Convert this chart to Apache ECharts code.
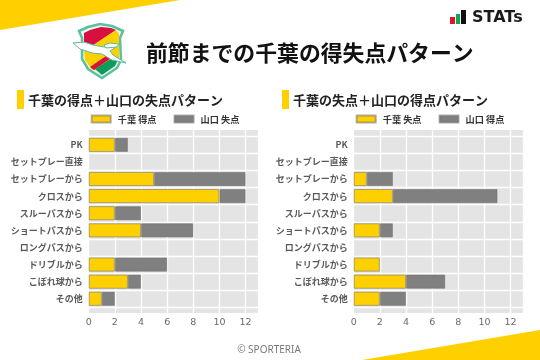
<!DOCTYPE html>
<html><head><meta charset="utf-8">
<style>html,body{margin:0;padding:0;background:#fff}#c{width:540px;height:360px}</style>
<script src="https://cdn.jsdelivr.net/npm/echarts@6/dist/echarts.min.js"></script>
</head><body><div id="c"></div>
<script>
const categories = ['PK','セットプレー直接','セットプレーから','クロスから','スルーパスから','ショートパスから','ロングパスから','ドリブルから','こぼれ球から','その他'];
const xTicks = [0,2,4,6,8,10,12];
const leftChibaFor   = [2,0,5,10,2,4,0,2,3,1];
const leftYamaguchiAgainst = [1,0,7,2,2,4,0,4,1,1];
const rightChibaAgainst = [0,0,1,3,0,2,0,2,4,2];
const rightYamaguchiFor = [0,0,2,8,0,1,0,0,3,2];
const mainTitle = '前節までの千葉の得失点パターン';
const leftTitle = '千葉の得点＋山口の失点パターン';
const rightTitle = '千葉の失点＋山口の得点パターン';

const FONT = '"Noto Sans CJK JP","Noto Sans",sans-serif';
const YELLOW = '#FFD000', GREY = '#808080', EDGE = 'rgba(110,110,110,0.55)';
const PANEL_W = 170, xMax = 13;
const panels = [
  {left:88.7, names:['千葉 得点','山口 失点'], a:leftChibaFor, b:leftYamaguchiAgainst},
  {left:353.7, names:['千葉 失点','山口 得点'], a:rightChibaAgainst, b:rightYamaguchiFor}
];
const grid=[], xAxis=[], yAxis=[], series=[], legend=[];
panels.forEach((p,i)=>{
  const bg=i*2, data=i*2+1;
  grid.push({left:p.left,top:130,width:PANEL_W,height:183,show:true,backgroundColor:'#E4E4E4',borderWidth:0,z:0});
  grid.push({left:p.left,top:136.3,width:PANEL_W,height:171,show:false,z:1});
  xAxis.push({gridIndex:bg,type:'value',min:0,max:xMax,interval:2,
    axisLine:{show:false},axisTick:{show:false},
    axisLabel:{color:'#6a6a6a',fontSize:9.5,margin:5,fontFamily:'"DejaVu Sans",sans-serif',showMaxLabel:false,
      formatter:v=>xTicks.includes(v)?String(v):''},
    splitLine:{show:true,lineStyle:{color:'#fff',width:1.3}}});
  yAxis.push({gridIndex:bg,type:'value',min:0,max:1,show:false,splitLine:{show:false}});
  xAxis.push({gridIndex:data,type:'value',min:0,max:xMax,show:false,splitLine:{show:false}});
  yAxis.push({gridIndex:data,type:'category',inverse:true,data:categories,
    axisLine:{show:false},axisTick:{show:false,alignWithLabel:true},
    axisLabel:{color:'#5a5a5a',fontSize:9,fontWeight:'bold',margin:6,fontFamily:FONT},
    splitLine:{show:true,lineStyle:{color:'#fff',width:1.3}}});
  [[p.a,YELLOW,p.names[0]],[p.b,GREY,p.names[1]]].forEach(([vals,col,name])=>{
    series.push({type:'bar',name,xAxisIndex:data,yAxisIndex:data,stack:'s'+i,barWidth:14.2,
      data:vals.map(v=>v===0?null:v),
      itemStyle:{color:col,borderColor:EDGE,borderWidth:1},silent:true,animation:false});
  });
  legend.push({left:p.left+2,top:114.5,data:p.names,itemWidth:19,itemHeight:7,itemGap:17,icon:'rect',
    padding:0,selectedMode:false,
    textStyle:{fontSize:9.2,fontWeight:'bold',color:'#333',fontFamily:FONT,padding:[0,0,0,2]}});
});
const poly=(points,fill,stroke,lw,z)=>({type:'polygon',z:z||10,shape:{points},style:{fill,stroke:stroke||null,lineWidth:lw||0}});
const txt=(x,y,text,font,fill,align)=>({type:'text',x,y,z:20,style:{text,font,fill,align:align||'left',verticalAlign:'middle'}});
const graphic=[
  poly([[0,0],[180,0],[0,30]],YELLOW),
  poly([[540,330],[540,360],[362,360]],YELLOW),
  // club crest
  poly([[79,31],[88,27],[100,24],[112,26],[123,31],[120,38],[121,60],[117,68],[102,78],[88,69],[82,59],[82,38]],'#EAF6F0','#5cbf9f',2.5),
  poly([[84,33],[90,30],[101,27],[111,28],[116,30],[92,46],[84,50]],'#D8103F'),
  poly([[92,46],[116,30],[119,34],[119,58],[100,70],[92,70],[85,60],[84,50]],YELLOW),
  poly([[90,67],[106,56],[110,59],[94,70]],'#D8103F'),
  poly([[95,69],[114,57],[119,58],[115,66],[102,75]],'#0E9A5C'),
  poly([[73,43],[84,42],[93,45],[104,47],[116,47],[110,51],[113,55],[126,63],[112,60],[102,54],[92,53],[80,49]],'#fff','#5fb99a',1),
  poly([[104,45],[110,43],[119,44],[117,47],[106,48]],'#fff','#5fb99a',1),
  // STATs mark
  {type:'rect',z:20,shape:{x:450,y:17,width:5,height:7},style:{fill:'#E0142C'}},
  {type:'rect',z:20,shape:{x:456,y:14,width:4,height:10},style:{fill:'#11A650'}},
  {type:'rect',z:20,shape:{x:461,y:10,width:5,height:14},style:{fill:'#111'}},
  txt(472,18,'STATs','bold 16px "DejaVu Sans",sans-serif','#1a1a1a'),
  txt(146,53,mainTitle,'bold 21.85px '+FONT,'#111'),
  {type:'rect',z:20,shape:{x:17,y:90,width:7,height:19},style:{fill:YELLOW}},
  txt(28,100,leftTitle,'bold 13px '+FONT,'#222'),
  {type:'rect',z:20,shape:{x:282,y:90,width:7,height:19},style:{fill:YELLOW}},
  txt(293,100,rightTitle,'bold 13px '+FONT,'#222'),
  txt(269,350,'© SPORTERIA','10px "Noto Sans",sans-serif','#7a7a7a','center')
];
const chart=echarts.init(document.getElementById('c'),null,{renderer:'canvas'});
chart.setOption({animation:false,backgroundColor:'#fff',grid,xAxis,yAxis,series,legend,graphic});
</script></body></html>
